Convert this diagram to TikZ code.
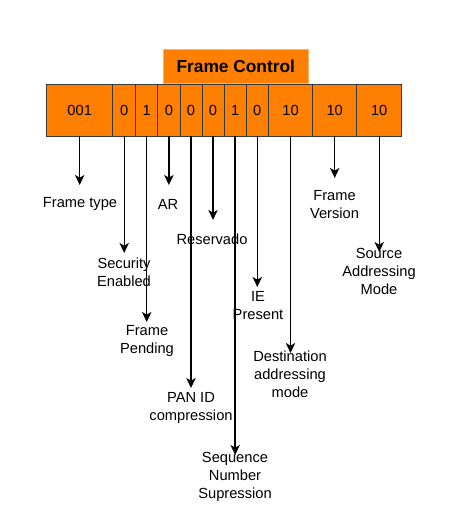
\documentclass[tikz,border=0pt]{standalone}
\usepackage{fontspec}
\setmainfont{Liberation Sans}
\usetikzlibrary{arrows.meta, positioning}
\definecolor{fcorange}{HTML}{FF8000}
\definecolor{fcedge}{HTML}{FFB366}
\definecolor{celledge}{HTML}{36393D}

\begin{document}
\begin{tikzpicture}[
    >={Stealth[length=7.5pt, width=7pt, inset=2pt]},
    x=0.75pt, y=-0.75pt,
    lbl/.style={font=\fontsize{11}{13.5}\selectfont, align=center, inner sep=0pt},
    cell/.style={draw=celledge, fill=fcorange, minimum height=51.7*0.75pt, inner sep=0pt, font=\fontsize{11}{13.5}\selectfont},
    head/.style={draw=fcedge, fill=fcorange, minimum width=145*0.75pt, minimum height=34*0.75pt, inner sep=0pt, font=\bfseries\fontsize{13}{15}\selectfont},
    field/.style={->, line width=1pt}
  ]
  \useasboundingbox (0,0) rectangle (467,532);

  % Campi del Frame Control
  \foreach \n/\cx/\w/\t in {c1/79.7/66/001, c2/124.2/23/0, c3/146.7/22/1, c4/168.85/22.3/0,
      c5/191/22/0, c6/213/22/0, c7/235.15/22.3/1, c8/257.3/22/0,
      c9/290.5/44.4/10, c10/334.7/44/10, c11/379.2/45/10}
    \node[cell, minimum width=\w*0.75pt] (\n) at (\cx,110) {\t};

  % Intestazione
  \node[head, anchor=south] (fctrl) at (235.8,84) {Frame Control};

  % Etichette
  \node[lbl] (ftype) at (80,204) {Frame type};
  \node[lbl] (secen) at (124,272) {Security\\Enabled};
  \node[lbl] (frpend) at (147,341) {Frame\\Pending};
  \node[lbl] (ar) at (168,204) {AR};
  \node[lbl] (panid) at (191,408) {PAN ID\\compression};
  \node[lbl] (resv) at (212,239) {Reservado};
  \node[lbl] (seqnum) at (235,477) {Sequence\\Number\\Supression};
  \node[lbl] (iepres) at (258,306) {IE\\Present};
  \node[lbl] (dstmode) at (290,374) {Destination\\addressing\\mode};
  \node[lbl] (frver) at (334.5,204.5) {Frame\\Version};
  \node[lbl] (srcmode) at (379,271) {Source\\Addressing\\Mode};

  % Frecce
  \foreach \c/\t in {c1/185, c2/253, c3/322, c4/185, c5/388, c6/220,
      c7/455, c8/287, c9/353, c10/178, c11/252} {
    \coordinate (tip\c) at (\c.south |- 0,\t);
    \draw[field] (\c.south) -- (tip\c);
  }
\end{tikzpicture}
\end{document}
